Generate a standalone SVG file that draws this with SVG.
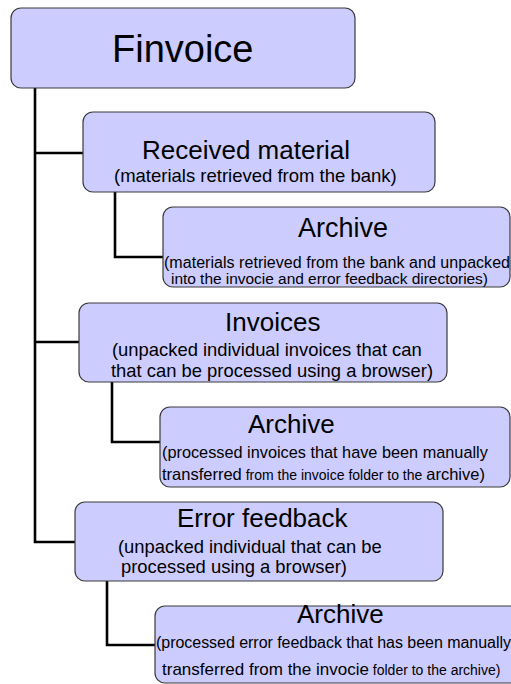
<svg xmlns="http://www.w3.org/2000/svg" width="511" height="684" viewBox="0 0 511 684">
<style>
  .box { fill: #ccccff; stroke: #3a3a3a; stroke-width: 1.2; }
  .t { font-family: "Liberation Sans", Arial, sans-serif; fill: #000; }
  .conn { fill: none; stroke: #000; stroke-width: 2.6; stroke-linejoin: miter; }
</style>
<rect width="511" height="684" fill="#ffffff"/>
<g id="connectors">
  <path class="conn" d="M35,88 V542 H75"/>
  <path class="conn" d="M35,153 H83"/>
  <path class="conn" d="M35,342 H79"/>
  <path class="conn" d="M115,192 V257 H163"/>
  <path class="conn" d="M112,382 V442 H160"/>
  <path class="conn" d="M107,581 V645 H155"/>
</g>
<g id="finvoice">
  <rect class="box" x="11" y="8" width="344" height="80" rx="10"/>
  <text class="t" x="112" y="62" font-size="38">Finvoice</text>
</g>
<g id="received">
  <rect class="box" x="83" y="112" width="352" height="80" rx="10"/>
  <text class="t" x="142" y="159" font-size="26">Received material</text>
  <text class="t" x="114" y="182" font-size="18.5">(materials retrieved from the bank)</text>
</g>
<g id="archive1">
  <rect class="box" x="163" y="207" width="347" height="80" rx="10"/>
  <text class="t" x="298" y="237" font-size="27">Archive</text>
  <text class="t" x="164" y="268" font-size="16" textLength="346">(materials retrieved from the bank and unpacked</text>
  <text class="t" x="171" y="284" font-size="15.5" textLength="317">into the invocie and error feedback directories)</text>
</g>
<g id="invoices">
  <rect class="box" x="79" y="303" width="368" height="79" rx="10"/>
  <text class="t" x="225" y="331" font-size="26">Invoices</text>
  <text class="t" x="112" y="356" font-size="18.4">(unpacked individual invoices that can</text>
  <text class="t" x="111" y="377" font-size="18.4">that can be processed using a browser)</text>
</g>
<g id="archive2">
  <rect class="box" x="160" y="407" width="350" height="80" rx="10"/>
  <text class="t" x="248" y="433" font-size="26">Archive</text>
  <text class="t" x="162" y="458" font-size="16.3">(processed invoices that have been manually</text>
  <text class="t" x="162" y="480" font-size="16.5">transferred<tspan font-size="14"> from the invoice folder to the </tspan>archive)</text>
</g>
<g id="errorfeedback">
  <rect class="box" x="75" y="502" width="368" height="79" rx="10"/>
  <text class="t" x="177" y="527" font-size="26">Error feedback</text>
  <text class="t" x="118" y="553" font-size="18.4">(unpacked individual that can be</text>
  <text class="t" x="121" y="573" font-size="18.4">processed using a browser)</text>
</g>
<g id="archive3">
  <rect class="box" x="155" y="606" width="370" height="77" rx="10"/>
  <text class="t" x="297" y="623" font-size="26">Archive</text>
  <text class="t" x="156" y="648" font-size="16" textLength="355">(processed error feedback that has been manually</text>
  <text class="t" x="162" y="675" font-size="17">transferred from the invocie<tspan font-size="14"> folder to the archive)</tspan></text>
</g>
</svg>
